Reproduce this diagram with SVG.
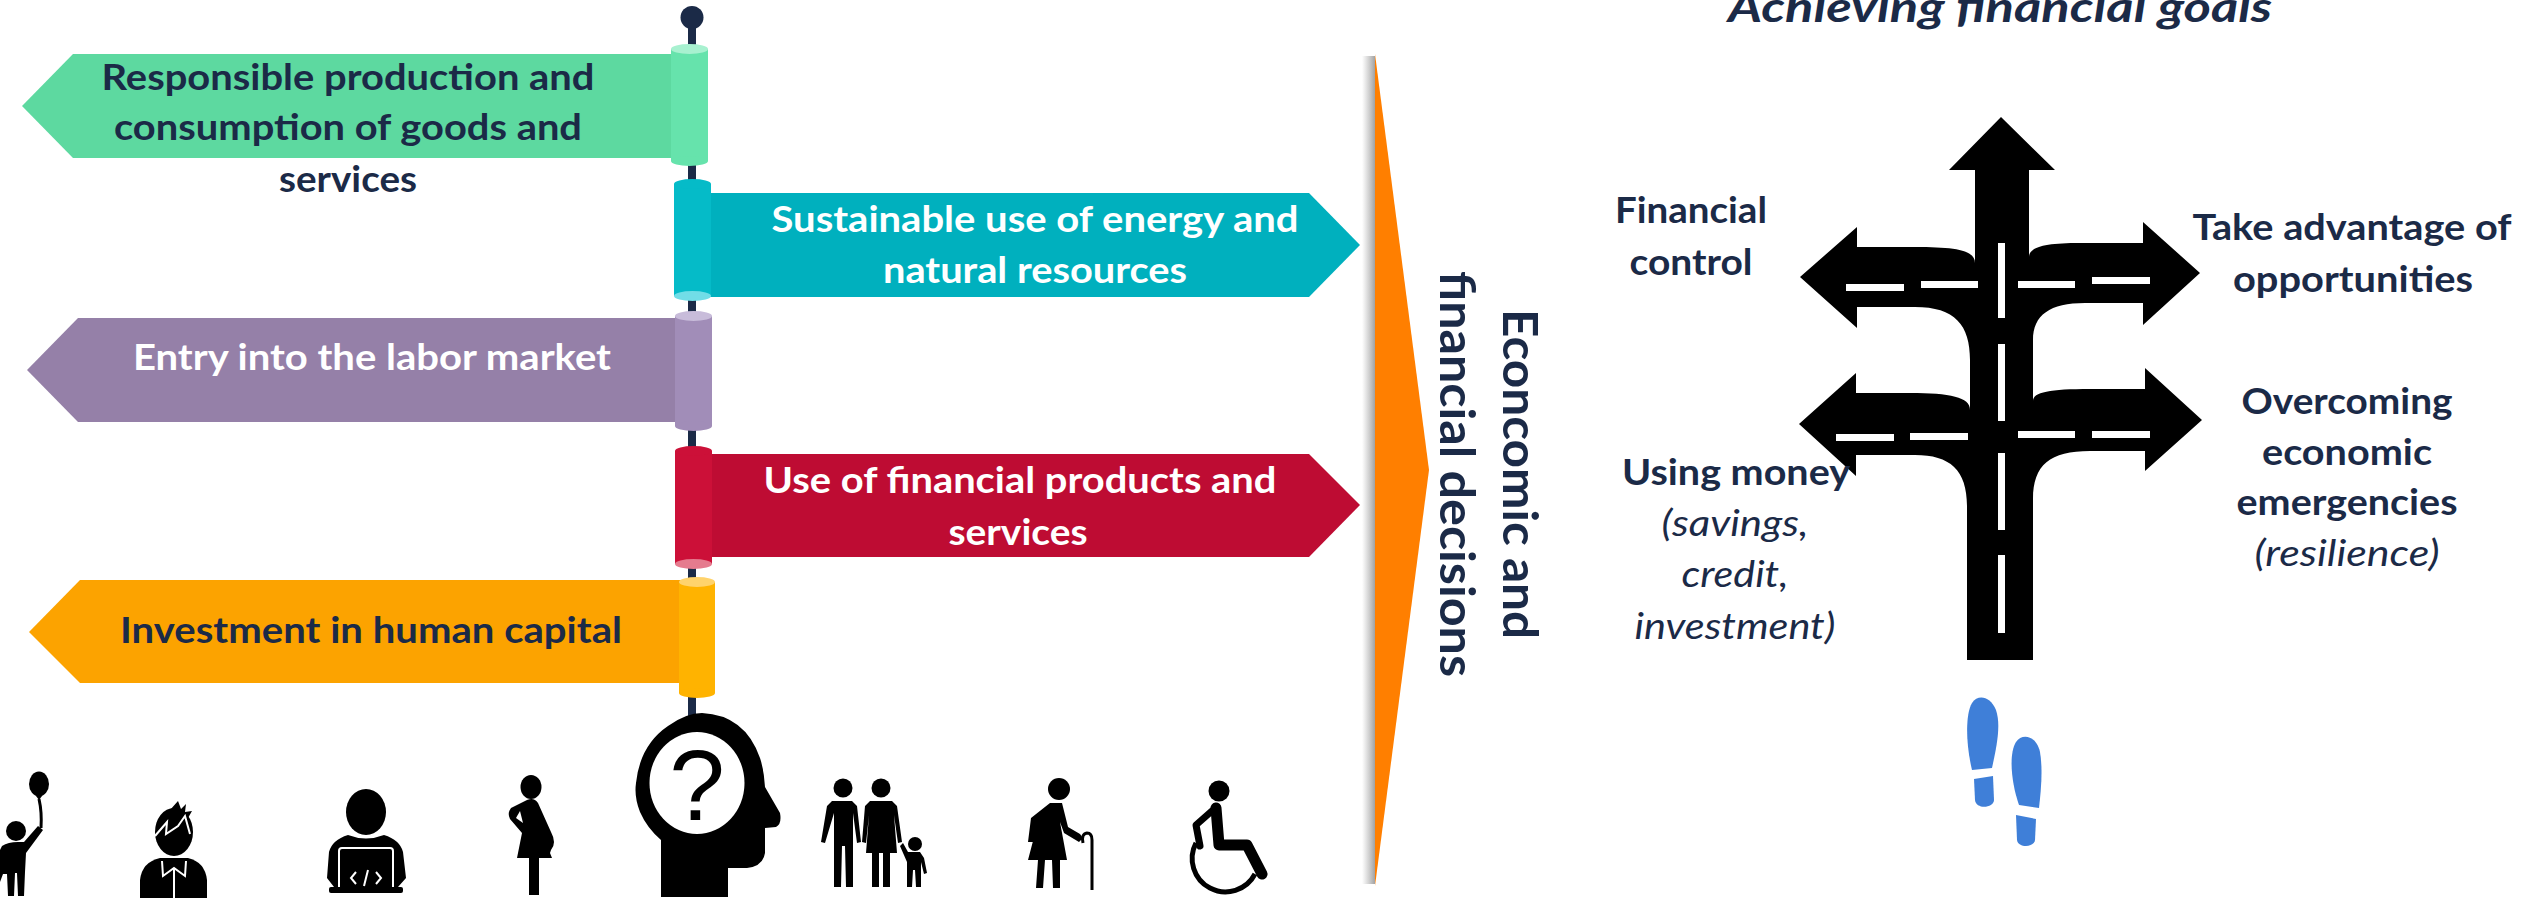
<svg xmlns="http://www.w3.org/2000/svg" width="2534" height="898" viewBox="0 0 2534 898">
  <defs>
    <style>
      .t { font-family: Lato, "Liberation Sans", sans-serif; font-weight: 700; text-anchor: middle; }
      .navy { fill: #1b2a47; }
      .white { fill: #ffffff; }
      .banner { font-size: 37px; }
      .lbl { font-size: 37px; }
      .it { font-style: italic; font-weight: 400; }
      .ink { fill: #000000; }
      .dash { fill: #ffffff; }
      .foot { fill: #3f7fd8; }
    </style>
    <linearGradient id="edgeShadow" x1="0" y1="0" x2="1" y2="0">
      <stop offset="0" stop-color="#9a9a9a" stop-opacity="0"/>
      <stop offset="1" stop-color="#8a8a8a" stop-opacity="0.8"/>
    </linearGradient>
  </defs>

  <rect width="2534" height="898" fill="#ffffff"/>

  <!-- signpost pole -->
  <g id="connectors">
    <rect x="688" y="20" width="8" height="700" fill="#1b2a47"/>
    <ellipse cx="692" cy="17.5" rx="11.5" ry="11.5" fill="#1b2a47"/>
  </g>

  <!-- banner 1: green, pointing left -->
  <g id="sign-responsible">
    <polygon points="22,106 73,54 690,54 690,158 73,158" fill="#5dd9a0"/>
    <rect x="671" y="49" width="37" height="112" fill="#66e3ac"/>
    <ellipse cx="689.5" cy="161" rx="18.5" ry="5" fill="#66e3ac"/>
    <ellipse cx="689.5" cy="49" rx="18.5" ry="5" fill="#a8f1d0"/>
    <text class="t navy banner" x="348" y="90" textLength="493" lengthAdjust="spacingAndGlyphs">Responsible production and</text>
    <text class="t navy banner" x="348" y="140" textLength="468" lengthAdjust="spacingAndGlyphs">consumption of goods and</text>
    <text class="t navy banner" x="348" y="192" textLength="138" lengthAdjust="spacingAndGlyphs">services</text>
  </g>

  <!-- banner 2: teal, pointing right -->
  <g id="sign-energy">
    <polygon points="690,193 1309,193 1360,245 1309,297 690,297" fill="#00b0be"/>
    <rect x="674" y="184" width="37" height="112" fill="#05bbc8"/>
    <ellipse cx="692.5" cy="184" rx="18.5" ry="5" fill="#05bbc8"/>
    <ellipse cx="692.5" cy="296" rx="18.5" ry="5" fill="#71dde7"/>
    <text class="t white banner" x="1035" y="232" textLength="527" lengthAdjust="spacingAndGlyphs">Sustainable use of energy and</text>
    <text class="t white banner" x="1035" y="283" textLength="304" lengthAdjust="spacingAndGlyphs">natural resources</text>
  </g>

  <!-- banner 3: purple, pointing left -->
  <g id="sign-labor">
    <polygon points="27,370 78,318 693,318 693,422 78,422" fill="#9580a8"/>
    <rect x="675" y="316" width="37" height="110" fill="#a18db8"/>
    <ellipse cx="693.5" cy="426" rx="18.5" ry="5" fill="#a18db8"/>
    <ellipse cx="693.5" cy="316" rx="18.5" ry="5" fill="#c8bcda"/>
    <text class="t white banner" x="372" y="370" textLength="478" lengthAdjust="spacingAndGlyphs">Entry into the labor market</text>
  </g>

  <!-- banner 4: red, pointing right -->
  <g id="sign-financial-products">
    <polygon points="693,454 1309,454 1360,505 1309,557 693,557" fill="#be0c33"/>
    <rect x="675" y="451" width="37" height="113" fill="#cc1038"/>
    <ellipse cx="693.5" cy="451" rx="18.5" ry="5" fill="#cc1038"/>
    <ellipse cx="693.5" cy="564" rx="18.5" ry="5" fill="#e57b8e"/>
    <text class="t white banner" x="1020" y="493" textLength="513" lengthAdjust="spacingAndGlyphs">Use of financial products and</text>
    <text class="t white banner" x="1018" y="545" textLength="139" lengthAdjust="spacingAndGlyphs">services</text>
  </g>

  <!-- banner 5: amber, pointing left -->
  <g id="sign-human-capital">
    <polygon points="29,632 80,580 697,580 697,683 80,683" fill="#fca300"/>
    <rect x="679" y="582" width="36" height="111" fill="#ffb300"/>
    <ellipse cx="697" cy="693" rx="18" ry="5" fill="#ffb300"/>
    <ellipse cx="697" cy="582" rx="18" ry="5" fill="#ffd36c"/>
    <text class="t navy banner" x="371" y="643" textLength="502" lengthAdjust="spacingAndGlyphs">Investment in human capital</text>
  </g>

  <!-- life-stage figures -->
  <g id="figure-child">
    <ellipse class="ink" cx="39" cy="784" rx="10" ry="12.5"/>
    <polygon class="ink" points="36,796 42,796 39,800"/>
    <path d="M39,799 Q42,812 41,828" stroke="#000" stroke-width="3" fill="none"/>
    <circle class="ink" cx="16" cy="831" r="10"/>
    <path class="ink" d="M2,846 Q8,842 18,842 L24,842 L38,826 L43,830 L26,853 L25,872 L24,896 L18,896 L17,873 L15,873 L14,896 L8,896 L7,874 L3,874 L0,882 L0,850 Z"/>
  </g>

  <g id="figure-boy">
    <ellipse class="ink" cx="174" cy="832" rx="19" ry="24"/>
    <polygon class="ink" points="170,810 178,801 181,809 186,804 185,812 192,811 188,818"/>
    <polyline points="155,836 161,829 167,822 166,834 178,826 185,816 190,834" stroke="#fff" stroke-width="2" fill="none"/>
    <path class="ink" d="M140,898 L140,880 Q142,862 160,858 L188,858 Q205,862 207,880 L207,898 Z"/>
    <path d="M162,861 L163,876 L174,868 L185,876 L186,861 M174,868 L174,898" stroke="#fff" stroke-width="2" fill="none"/>
  </g>

  <g id="figure-coder">
    <ellipse class="ink" cx="366" cy="812" rx="20" ry="23"/>
    <path class="ink" d="M327,878 L329,852 Q332,840 348,835 Q366,842 384,835 Q400,840 403,852 L406,878 L398,887 L334,887 Z"/>
    <rect x="339" y="848" width="54" height="42" rx="3" fill="#000" stroke="#fff" stroke-width="2"/>
    <rect class="ink" x="329" y="887" width="74" height="6" rx="2"/>
    <path d="M356,872 L351,878 L356,884 M368,870 L364,886 M376,872 L381,878 L376,884" stroke="#fff" stroke-width="2" fill="none"/>
  </g>

  <g id="figure-pregnant">
    <ellipse class="ink" cx="531" cy="787" rx="10.5" ry="12"/>
    <path class="ink" d="M527,800 Q534,797 538,803 L551,832 Q557,843 551,850 L550,853 L552,858 L539,858 L539,895 L529,895 L529,858 L517,858 L522,833 L510,819 Q507,813 511,808 Z"/>
    <polygon points="520,811 523,823 516,818" fill="#fff"/>
  </g>

  <g id="figure-thinking-head">
    <path class="ink" d="M661,897 L661,840 Q647,828 640,812 Q634,797 636,783 Q640,745 668,726 Q686,713 702,713 Q745,715 760,758 Q764,770 765,787 L780,813 Q782,824 776,827 L765,828 L765,853 Q763,866 747,868 L728,868 L728,897 Z"/>
    <ellipse cx="697" cy="783" rx="47.5" ry="51" fill="#fff"/>
    <text x="697" y="820" font-family="'Liberation Sans', sans-serif" font-size="100" text-anchor="middle" fill="#000">?</text>
  </g>

  <g id="figure-family">
    <circle class="ink" cx="843" cy="788" r="9.5"/>
    <polygon class="ink" points="832,801 852,801 857,806 861,842 857,843 853,813 853,887 846,887 845,846 842,846 841,887 834,887 834,813 825,843 821,842 827,806"/>
    <circle class="ink" cx="881" cy="788" r="9.5"/>
    <polygon class="ink" points="870,801 892,801 897,806 902,842 898,843 894,815 897,853 890,853 890,887 883,887 883,853 879,853 879,887 872,887 872,853 866,853 869,815 866,843 862,842 865,806"/>
    <circle class="ink" cx="915" cy="844" r="7"/>
    <polygon class="ink" points="903,843 908,852 920,852 924,858 927,873 924,874 921,862 921,887 916,887 915,870 913,870 912,887 907,887 907,862 900,846"/>
  </g>

  <g id="figure-elder">
    <circle class="ink" cx="1059" cy="789" r="11"/>
    <polygon class="ink" points="1050,803 1062,803 1068,827 1080,834 1083,838 1079,842 1064,833 1060,822 1067,860 1060,860 1060,888 1053,888 1052,860 1045,860 1043,888 1036,888 1038,860 1028,860 1038,822 1034,842 1028,842 1031,818"/>
    <path d="M1083,843 Q1081,834 1087,833 Q1092,833 1092,840 L1092,890" stroke="#000" stroke-width="3" fill="none"/>
  </g>

  <g id="figure-wheelchair">
    <circle class="ink" cx="1219" cy="791" r="10.5"/>
    <polyline points="1216,808 1219,845 1247,845 1262,874" stroke="#000" stroke-width="11" stroke-linejoin="round" stroke-linecap="round" fill="none"/>
    <polyline points="1213,810 1196,825 1200,846" stroke="#000" stroke-width="7" stroke-linejoin="round" stroke-linecap="round" fill="none"/>
    <path d="M1196,843 A33,33 0 1 0 1255,874" stroke="#000" stroke-width="5" fill="none"/>
  </g>

  <!-- decision arrow -->
  <g id="decisions">
    <rect x="1362" y="56" width="13" height="828" fill="url(#edgeShadow)"/>
    <polygon points="1375,54 1429,470 1375,886" fill="#ff7f00"/>
    <text class="t navy" font-size="48" transform="translate(1503,474) rotate(90)" textLength="330" lengthAdjust="spacingAndGlyphs">Econcomic and</text>
    <text class="t navy" font-size="48" transform="translate(1440,474) rotate(90)" textLength="406" lengthAdjust="spacingAndGlyphs">financial decisions</text>
  </g>

  <!-- goals title -->
  <g id="goals-title">
    <text class="t navy" font-size="42" font-style="italic" x="2000" y="22" textLength="544" lengthAdjust="spacingAndGlyphs">Achieving financial goals</text>
  </g>

  <!-- crossroads sign -->
  <g id="crossroads">
    <path class="ink" d="M2001,117 L2055,170 L2029,170 L2029,257 C2029,247 2045,243 2080,243 L2143,243 L2143,222 L2200,273 L2143,325 L2143,303 L2085,303 C2050,303 2033,315 2033,340 L2033,401 C2033,392 2050,389 2090,389 L2145,389 L2145,368 L2202,420 L2145,471 L2145,451 L2090,451 C2050,451 2033,465 2033,499 L2033,660 L1967,660 L1967,506 C1967,470 1950,455 1915,455 L1856,455 L1856,476 L1799,424 L1856,373 L1856,393 L1910,393 C1950,393 1970,397 1970,410 L1970,360 C1970,325 1955,307 1915,307 L1857,307 L1857,328 L1800,277 L1857,227 L1857,247 L1915,247 C1955,247 1975,250 1975,263 L1975,170 L1949,170 Z"/>
    <rect class="dash" x="1846" y="284" width="58" height="7"/>
    <rect class="dash" x="1921" y="281" width="57" height="7"/>
    <rect class="dash" x="2018" y="281" width="57" height="7"/>
    <rect class="dash" x="2092" y="277" width="58" height="7"/>
    <rect class="dash" x="1998" y="243" width="7" height="75"/>
    <rect class="dash" x="1998" y="344" width="7" height="77"/>
    <rect class="dash" x="1836" y="434" width="58" height="7"/>
    <rect class="dash" x="1910" y="433" width="58" height="7"/>
    <rect class="dash" x="2018" y="431" width="57" height="7"/>
    <rect class="dash" x="2092" y="431" width="58" height="7"/>
    <rect class="dash" x="1998" y="453" width="7" height="77"/>
    <rect class="dash" x="1998" y="555" width="7" height="78"/>
  </g>

  <g id="goal-control">
    <text class="t navy lbl" x="1691" y="223" textLength="152" lengthAdjust="spacingAndGlyphs">Financial</text>
    <text class="t navy lbl" x="1691" y="275" textLength="123" lengthAdjust="spacingAndGlyphs">control</text>
  </g>

  <g id="goal-opportunities">
    <text class="t navy lbl" x="2352" y="240" textLength="319" lengthAdjust="spacingAndGlyphs">Take advantage of</text>
    <text class="t navy lbl" x="2353" y="292" textLength="240" lengthAdjust="spacingAndGlyphs">opportunities</text>
  </g>

  <g id="goal-money">
    <text class="t navy lbl" x="1736" y="485" textLength="228" lengthAdjust="spacingAndGlyphs">Using money</text>
    <text class="t navy lbl it" x="1735" y="536" textLength="147" lengthAdjust="spacingAndGlyphs">(savings,</text>
    <text class="t navy lbl it" x="1735" y="587" textLength="107" lengthAdjust="spacingAndGlyphs">credit,</text>
    <text class="t navy lbl it" x="1735" y="639" textLength="201" lengthAdjust="spacingAndGlyphs">investment)</text>
  </g>

  <g id="goal-resilience">
    <text class="t navy lbl" x="2347" y="414" textLength="211" lengthAdjust="spacingAndGlyphs">Overcoming</text>
    <text class="t navy lbl" x="2347" y="465" textLength="170" lengthAdjust="spacingAndGlyphs">economic</text>
    <text class="t navy lbl" x="2347" y="515" textLength="221" lengthAdjust="spacingAndGlyphs">emergencies</text>
    <text class="t navy lbl it" x="2347" y="566" textLength="185" lengthAdjust="spacingAndGlyphs">(resilience)</text>
  </g>

  <!-- footprints -->
  <g id="footsteps">
    <path class="foot" d="M1972,770 C1966,745 1965,715 1972,703 C1978,694 1990,696 1996,710 C2001,725 1997,745 1992,768 Z"/>
    <path class="foot" d="M1974,779 L1993,776 L1994,800 C1994,808 1976,810 1975,800 Z"/>
    <path class="foot" d="M2019,805 C2012,785 2008,755 2016,742 C2022,733 2036,735 2040,752 C2043,770 2041,790 2039,808 Z"/>
    <path class="foot" d="M2016,815 L2036,819 L2035,840 C2034,848 2018,848 2017,840 Z"/>
  </g>
</svg>
